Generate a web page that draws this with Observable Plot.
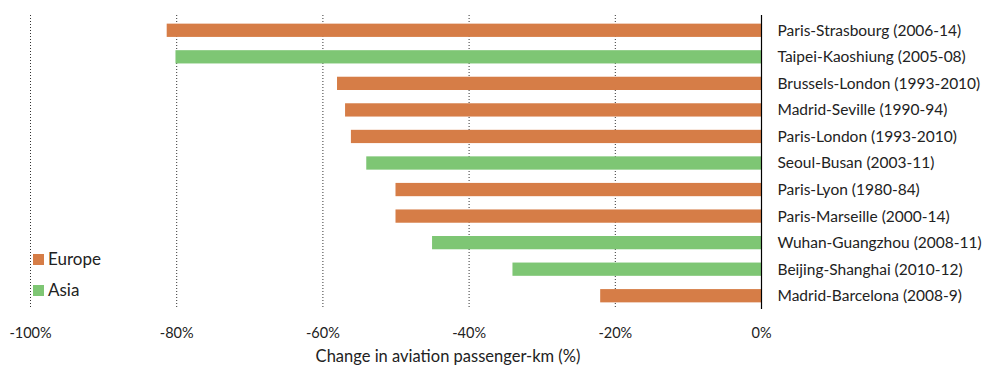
<!DOCTYPE html>
<html><head><meta charset="utf-8">
<script src="https://cdn.jsdelivr.net/npm/d3@7"></script>
<script src="https://cdn.jsdelivr.net/npm/@observablehq/plot@0.6"></script>
<style>
body{margin:0;background:#fff;font-family:Lato,"Open Sans",sans-serif;}
#wrap{position:relative;width:984px;height:366px;}
.leg{position:absolute;left:33px;font-size:17px;color:#222;display:flex;align-items:center;line-height:20px;}
.leg span.sw{display:inline-block;width:11px;height:11px;margin-right:4px;}
</style></head>
<body><div id="wrap"></div>
<script>
const routes = ["Paris-Strasbourg (2006-14)","Taipei-Kaoshiung (2005-08)","Brussels-London (1993-2010)","Madrid-Seville (1990-94)","Paris-London (1993-2010)","Seoul-Busan (2003-11)","Paris-Lyon (1980-84)","Paris-Marseille (2000-14)","Wuhan-Guangzhou (2008-11)","Beijing-Shanghai (2010-12)","Madrid-Barcelona (2008-9)"];
const values = [-81.3,-80.1,-58,-56.9,-56.1,-54,-50,-50,-45,-34,-22];
const regions = ["Europe","Asia","Europe","Europe","Europe","Asia","Europe","Europe","Asia","Asia","Europe"];
const regionNames = ["Europe","Asia"];
const regionColors = ["#D67D47","#7EC674"];
const xTicks = [-100,-80,-60,-40,-20,0];
const xTitle = "Change in aviation passenger-km (%)";

const data = routes.map((r,i)=>({route:r,value:values[i],region:regions[i]}));

const chart = Plot.plot({
  width:984, height:366,
  marginLeft:30, marginRight:223, marginTop:17, marginBottom:57,
  style:{fontFamily:"Lato, 'Open Sans', sans-serif", fontSize:"14px", color:"#222"},
  x:{domain:[-100,0]},
  y:{domain:routes, padding:0.5, paddingOuter:0.25, round:false},
  color:{domain:regionNames, range:regionColors},
  marks:[
    Plot.gridX(xTicks,{stroke:"#333",strokeOpacity:1,strokeDasharray:"1,2",insetTop:-2}),
    Plot.barX(data,{x:"value",y:"route",fill:"region"}),
    Plot.ruleX([0],{stroke:"#000",strokeWidth:1.2,insetTop:-2}),
    Plot.axisY({anchor:"right",tickSize:0,tickPadding:16,label:null,fontSize:15.5}),
    Plot.axisX(xTicks,{anchor:"bottom",tickSize:0,tickPadding:18,label:null,tickFormat:d=>d+"%",fontSize:14.5}),
    Plot.text([xTitle],{frameAnchor:"bottom",dx:52,dy:52,fontSize:16.5})
  ]
});
const wrap = document.getElementById("wrap");
wrap.appendChild(chart);
const tops=[249,280];
regionNames.forEach((n,i)=>{
  const d=document.createElement("div");d.className="leg";d.style.top=tops[i]+"px";
  d.innerHTML=`<span class="sw" style="background:${regionColors[i]}"></span>${n}`;
  wrap.appendChild(d);
});
</script></body></html>
